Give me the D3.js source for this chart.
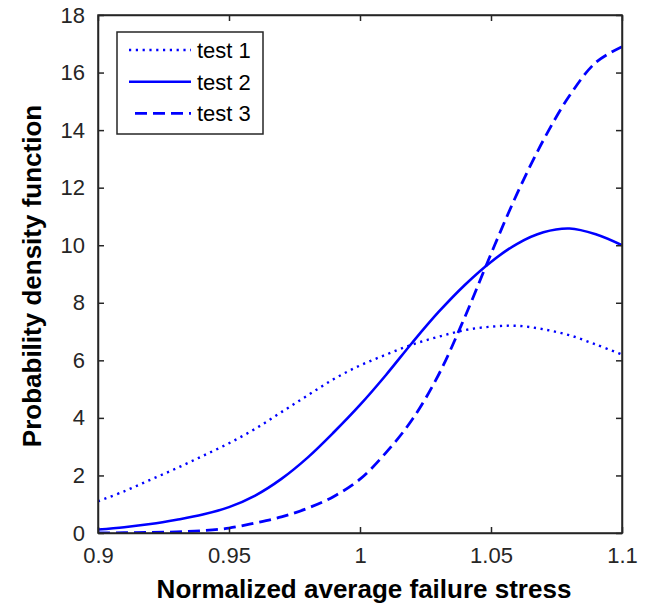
<!DOCTYPE html>
<html>
<head>
<meta charset="utf-8">
<script src="https://cdn.jsdelivr.net/npm/d3@7"></script>
<style>
  body { margin: 0; background: #fff; }
  svg { font-family: "Liberation Sans", Arial, sans-serif; }
  .tick text { font-size: 22px; fill: #262626; }
  .axis path, .axis line { stroke: #262626; stroke-width: 1.5; }
  .axis-label { font-size: 26px; font-weight: bold; fill: #000; }
  .legend-text { font-size: 22px; fill: #000; }
</style>
</head>
<body>
<div id="chart"></div>
<script>
// stress values (x) and densities for the three tests
const stress = [0.90, 0.91, 0.92, 0.93, 0.94, 0.95, 0.96, 0.97, 0.98, 0.99, 1.00,
                1.01, 1.02, 1.03, 1.04, 1.05, 1.06, 1.07, 1.08, 1.09, 1.10];
const test1 = [1.10, 1.45, 1.85, 2.25, 2.68, 3.12, 3.62, 4.20, 4.78, 5.35, 5.82,
               6.20, 6.55, 6.82, 7.05, 7.17, 7.20, 7.08, 6.87, 6.55, 6.20];
const test2 = [0.12, 0.20, 0.31, 0.46, 0.64, 0.90, 1.30, 1.88, 2.62, 3.50, 4.45,
               5.50, 6.62, 7.68, 8.62, 9.42, 10.05, 10.45, 10.58, 10.38, 10.00];
const test3 = [0.00, 0.01, 0.02, 0.04, 0.08, 0.17, 0.35, 0.56, 0.86, 1.27, 1.87,
               2.80, 3.95, 5.50, 7.50, 9.70, 11.80, 13.65, 15.20, 16.35, 16.90];
const seriesNames = ["test 1", "test 2", "test 3"];
const xTicks = [0.9, 0.95, 1, 1.05, 1.1];
const yTicks = [0, 2, 4, 6, 8, 10, 12, 14, 16, 18];

const width = 646, height = 605;
const margin = { left: 98, right: 24, top: 15, bottom: 72 };
const innerWidth = width - margin.left - margin.right;
const innerHeight = height - margin.top - margin.bottom;

const svg = d3.select("#chart").append("svg")
    .attr("width", width)
    .attr("height", height);

const g = svg.append("g")
    .attr("transform", `translate(${margin.left},${margin.top})`);

const xScale = d3.scaleLinear().domain([0.9, 1.1]).range([0, innerWidth]);
const yScale = d3.scaleLinear().domain([0, 18]).range([innerHeight, 0]);

// clip so curves stay inside the box
g.append("clipPath").attr("id", "clip")
  .append("rect").attr("width", innerWidth).attr("height", innerHeight);

const styles = [
    { dash: "2.2 4.6", width: 2.4 },
    { dash: null, width: 2.6 },
    { dash: "12 6", width: 2.8 }
];

const line = d3.line()
    .x(d => xScale(d[0]))
    .y(d => yScale(d[1]))
    .curve(d3.curveCatmullRom.alpha(0.5));

[test1, test2, test3].forEach(function(vals, i) {
    const pts = stress.map((x, j) => [x, vals[j]]);
    g.append("path")
        .attr("clip-path", "url(#clip)")
        .attr("d", line(pts))
        .attr("fill", "none")
        .attr("stroke", "#0000ff")
        .attr("stroke-width", styles[i].width)
        .attr("stroke-dasharray", styles[i].dash);
});

// axes, ticks pointing inwards
const xAxisG = g.append("g").attr("class", "axis")
    .attr("transform", `translate(0,${innerHeight})`)
    .call(d3.axisBottom(xScale).tickValues(xTicks).tickFormat(d3.format("~g"))
        .tickSizeInner(-6).tickSizeOuter(0).tickPadding(14));
xAxisG.selectAll(".tick text").attr("dy", "0.71em");

g.append("g").attr("class", "axis")
    .call(d3.axisTop(xScale).tickValues(xTicks).tickFormat("")
        .tickSizeInner(-6).tickSizeOuter(0));

g.append("g").attr("class", "axis")
    .call(d3.axisLeft(yScale).tickValues(yTicks)
        .tickSizeInner(-6).tickSizeOuter(0).tickPadding(13));

g.append("g").attr("class", "axis")
    .attr("transform", `translate(${innerWidth},0)`)
    .call(d3.axisRight(yScale).tickValues(yTicks).tickFormat("")
        .tickSizeInner(-6).tickSizeOuter(0));

g.append("rect")
    .attr("width", innerWidth)
    .attr("height", innerHeight)
    .attr("fill", "none")
    .attr("stroke", "#262626")
    .attr("stroke-width", 1.5);

// axis labels
svg.append("text")
    .attr("class", "axis-label")
    .attr("x", margin.left + innerWidth / 2 + 4)
    .attr("y", 598)
    .attr("text-anchor", "middle")
    .text("Normalized average failure stress");

svg.append("text")
    .attr("class", "axis-label")
    .attr("transform", `translate(41,${margin.top + innerHeight / 2 + 2}) rotate(-90)`)
    .attr("text-anchor", "middle")
    .text("Probability density function");

// legend
const legend = svg.append("g").attr("transform", "translate(117,32)");
legend.append("rect")
    .attr("width", 146)
    .attr("height", 102)
    .attr("fill", "#fff")
    .attr("stroke", "#262626")
    .attr("stroke-width", 1.5);

seriesNames.forEach(function(name, i) {
    const yy = 18 + i * 31.7;
    legend.append("line")
        .attr("x1", i === 2 ? 18 : 12).attr("x2", 74)
        .attr("y1", yy).attr("y2", yy)
        .attr("stroke", "#0000ff")
        .attr("stroke-width", styles[i].width)
        .attr("stroke-dasharray", styles[i].dash);
    legend.append("text")
        .attr("class", "legend-text")
        .attr("x", 80)
        .attr("y", yy + 8)
        .text(name);
});
</script>
</body>
</html>
